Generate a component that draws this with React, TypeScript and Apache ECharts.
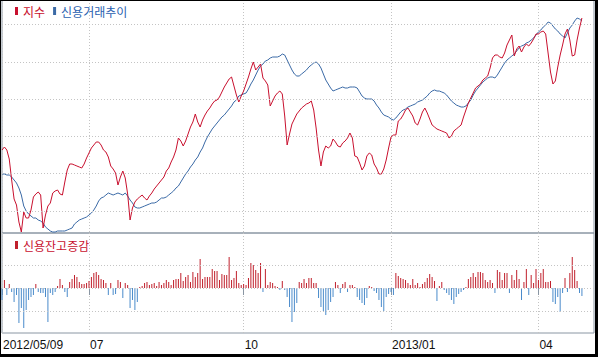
import React, { useEffect, useRef } from "react";
import * as echarts from "echarts";

// ---- categories: KRX trading days from 2012/05/09 ----
const CATEGORY_COUNT = 246;
const HOLIDAYS = [
  "2012/05/28", "2012/06/06", "2012/08/15", "2012/10/01", "2012/10/03",
  "2012/12/19", "2012/12/25", "2012/12/31", "2013/01/01", "2013/02/11",
  "2013/03/01", "2013/05/01", "2013/05/17",
];
const TICK_DATES = ["2012/05/09", "2012/07/02", "2012/10/02", "2013/01/02", "2013/04/01"];
const TICK_LABELS = ["2012/05/09", "07", "10", "2013/01", "04"];

// ---- series (relative levels; upper panel 0..233, lower panel -45..55) ----
const INDEX_LEVEL = [
  83, 86, 83, 74, 53, 34, 28, 11, 1, 21,
  15, 15, 23, 36, 39, 41, 38, 5, 18, 27,
  30, 40, 42, 43, 39, 38, 51, 63, 69, 69,
  68, 67, 66, 65, 69, 75, 80, 85, 88, 91,
  91, 88, 83, 81, 76, 67, 64, 60, 48, 56,
  62, 55, 39, 13, 25, 31, 34, 36, 38, 35,
  33, 37, 40, 44, 47, 50, 53, 56, 62, 65,
  71, 76, 83, 95, 92, 87, 92, 99, 106, 111,
  119, 111, 106, 113, 118, 122, 125, 129, 132, 133,
  136, 141, 146, 150, 154, 156, 147, 138, 131, 137,
  142, 149, 156, 164, 171, 163, 166, 169, 155, 152,
  148, 127, 132, 137, 140, 142, 139, 117, 88, 99,
  109, 114, 119, 122, 125, 127, 129, 130, 132, 123,
  105, 83, 67, 81, 87, 85, 87, 94, 91, 87,
  86, 90, 92, 95, 100, 95, 77, 76, 70, 63,
  67, 77, 80, 78, 69, 65, 59, 59, 64, 73,
  85, 96, 98, 98, 112, 114, 118, 123, 125, 121,
  117, 110, 108, 114, 121, 125, 120, 114, 108, 106,
  104, 103, 102, 101, 100, 95, 97, 102, 104, 106,
  108, 116, 123, 130, 135, 140, 145, 147, 149, 153,
  155, 157, 165, 175, 178, 178, 176, 175, 180, 188,
  193, 198, 177, 184, 187, 181, 186, 189, 187, 190,
  194, 199, 199, 201, 202, 199, 180, 161, 149, 152,
  166, 178, 188, 199, 204, 193, 177, 178, 193, 205,
  215,
];

const CREDIT_TREND = [
  59, 59, 58, 58, 56, 53, 50, 45, 38, 27,
  22, 19, 17, 15, 15, 13, 12, 10, 6, 4,
  2, 1, 1, 2, 2, 2, 2, 3, 4, 5,
  9, 11, 13, 14, 15, 16, 18, 20, 23, 27,
  32, 35, 36, 38, 40, 39, 38, 39, 40, 39,
  38, 40, 37, 33, 30, 26, 25, 25, 26, 27,
  28, 29, 30, 30, 31, 33, 35, 35, 36, 38,
  40, 42, 45, 47, 51, 55, 59, 62, 66, 69,
  73, 76, 81, 85, 91, 96, 100, 104, 107, 110,
  113, 116, 118, 121, 124, 127, 131, 133, 137, 138,
  139, 140, 144, 149, 153, 158, 163, 167, 169, 172,
  173, 175, 176, 176, 176, 177, 179, 178, 173, 168,
  163, 159, 157, 157, 159, 161, 163, 166, 168, 170,
  171, 169, 165, 159, 153, 149, 145, 142, 143, 144,
  145, 146, 145, 145, 146, 146, 146, 145, 141, 137,
  135, 134, 134, 134, 132, 128, 125, 121, 118, 117,
  116, 114, 113, 115, 118, 121, 123, 124, 126, 127,
  128, 129, 131, 132, 133, 135, 137, 140, 142, 143,
  142, 142, 141, 140, 138, 135, 132, 130, 128, 127,
  126, 126, 127, 130, 133, 138, 142, 145, 148, 151,
  153, 155, 156, 156, 155, 158, 162, 166, 170, 173,
  175, 177, 179, 182, 185, 187, 188, 190, 191, 193,
  195, 198, 201, 203, 206, 208, 211, 210, 207, 204,
  202, 199, 197, 195, 200, 205, 208, 212, 215, 214,
  212,
];

const CREDIT_CHANGE = [
  -12, 8, -7, 4, -4, -14, -7, -35, -20, -40,
  -22, -12, -9, -7, 4, -4, -5, -5, -9, -34,
  -5, -7, -4, 2, 9, 3, -4, -9, 6, 9,
  13, 11, 6, 4, 4, 5, 7, 11, 15, 16,
  13, 9, 8, 5, -7, 5, -7, -6, 8, 6,
  -10, 5, 3, -20, -12, -22, -14, 1, 2, 5,
  6, 3, 4, 5, 2, 6, 3, 5, 8, 6,
  3, 8, 9, 9, 15, 7, 11, 13, 6, 16,
  11, 15, 29, 9, 11, 11, 11, 19, 17, 17,
  8, 14, 13, 13, 31, 8, 10, 17, 5, 3,
  4, 3, 10, 25, 23, 18, 15, 25, -4, 19,
  3, 6, 5, 2, 1, -2, 7, -2, -9, -19,
  -34, -24, -15, 6, 5, 9, 5, 10, 10, 5,
  5, -10, -19, -23, -27, -22, -14, -9, 6, 3,
  -5, 4, 6, -4, 3, 3, 1, -9, -12, -15,
  -17, -10, 2, 1, -3, -5, -12, -19, -23, -9,
  -6, -4, -7, 15, 12, 10, 9, 8, 5, 3,
  9, 3, 5, 1, 4, 6, 10, 14, 11, 7,
  -13, 2, 6, -2, -5, -7, -12, -16, -9, -6,
  -4, -2, 1, 9, 11, 15, 11, 16, 16, 15,
  8, 6, 8, 5, -5, 18, 16, 8, 15, 15,
  -5, 13, 8, 18, 9, -12, 6, 19, -7, 13,
  5, 19, 8, 15, 19, 6, 6, 7, -14, -16,
  -9, -24, -5, 10, -4, 15, 31, 18, 7, -5,
  -8,
];

const UPPER_GRID_LEVELS = [22, 59.3, 96.6, 133.9, 171.2, 208.5];
const LOWER_GRID_LEVELS = [-23, 0, 23];

const RED = "#c8102e";
const BLUE_LINE = "#3b6aa6";
const BLUE_TEXT = "#2a5fb0";
const BAR_RED = "#c0202c";
const BAR_BLUE = "#4a8bcb";
const GRID_DOT = "#c4c4c4";
const FRAME_GRAY = "#8a96a3";

function pad(n: number) {
  return n < 10 ? "0" + n : "" + n;
}

function tradingDays(): string[] {
  const out: string[] = [];
  const d = new Date(Date.UTC(2012, 4, 9));
  while (out.length < CATEGORY_COUNT) {
    const dow = d.getUTCDay();
    const s = `${d.getUTCFullYear()}/${pad(d.getUTCMonth() + 1)}/${pad(d.getUTCDate())}`;
    if (dow !== 0 && dow !== 6 && HOLIDAYS.indexOf(s) < 0) out.push(s);
    d.setUTCDate(d.getUTCDate() + 1);
  }
  return out;
}

export default function App() {
  const ref = useRef<HTMLDivElement>(null);

  useEffect(() => {
    if (!ref.current) return;
    const chart = echarts.init(ref.current, undefined, { renderer: "svg" });
    const dates = tradingDays();
    const isTick = (_i: number, v: string) => TICK_DATES.indexOf(v) >= 0;
    const dotted = { color: GRID_DOT, width: 1, type: [1, 2] as any };

    const gridMark = (levels: number[]) => ({
      silent: true,
      symbol: ["none", "none"],
      label: { show: false },
      emphasis: { disabled: true },
      lineStyle: dotted,
      data: levels.map((v) => ({ yAxis: v })),
    });

    const option: any = {
      animation: false,
      backgroundColor: "#ffffff",
      textStyle: { fontFamily: "Noto Sans CJK KR" },
      grid: [
        { left: 2, top: 0, width: 592, height: 233, show: true, borderColor: FRAME_GRAY, borderWidth: 1, backgroundColor: "transparent" },
        { left: 2, top: 233, width: 592, height: 100, show: true, borderColor: FRAME_GRAY, borderWidth: 1, backgroundColor: "transparent" },
      ],
      legend: [
        {
          left: 15, top: 5, padding: 0, itemWidth: 3, itemHeight: 8, itemGap: 8, icon: "rect",
          selectedMode: false,
          textStyle: { fontSize: 12, fontFamily: "Noto Sans CJK KR" },
          data: [
            { name: "지수", textStyle: { color: RED } },
            { name: "신용거래추이", textStyle: { color: BLUE_TEXT } },
          ],
        },
        {
          left: 15, top: 239, padding: 0, itemWidth: 3, itemHeight: 8, icon: "rect",
          selectedMode: false,
          textStyle: { fontSize: 12, fontFamily: "Noto Sans CJK KR" },
          data: [{ name: "신용잔고증감", textStyle: { color: RED } }],
        },
      ],
      xAxis: [
        {
          type: "category", gridIndex: 0, data: dates, boundaryGap: false,
          axisLine: { show: false }, axisTick: { show: false }, axisLabel: { show: false },
          splitLine: { show: true, interval: isTick, lineStyle: dotted },
        },
        {
          type: "category", gridIndex: 1, data: dates, boundaryGap: false,
          axisLine: { show: false },
          axisTick: { show: true, interval: isTick, length: 7, lineStyle: { color: FRAME_GRAY } },
          axisLabel: {
            interval: isTick,
            formatter: (v: string) => {
              const k = TICK_DATES.indexOf(v);
              return k >= 0 ? TICK_LABELS[k] : "";
            },
            align: "left",
            margin: 6,
            fontSize: 12,
            fontFamily: "Liberation Sans",
            color: "#111111",
            padding: [0, 0, 0, 1],
          },
          splitLine: { show: true, interval: isTick, lineStyle: dotted },
        },
      ],
      yAxis: [
        { type: "value", gridIndex: 0, min: 0, max: 233, show: false },
        { type: "value", gridIndex: 1, min: -45, max: 55, show: false },
      ],
      series: [
        {
          name: "신용거래추이", type: "line", xAxisIndex: 0, yAxisIndex: 0,
          data: CREDIT_TREND, symbol: "none", showSymbol: false,
          lineStyle: { width: 1, color: BLUE_LINE }, itemStyle: { color: BLUE_LINE },
          markLine: gridMark(UPPER_GRID_LEVELS), z: 2,
        },
        {
          name: "지수", type: "line", xAxisIndex: 0, yAxisIndex: 0,
          data: INDEX_LEVEL, symbol: "none", showSymbol: false,
          lineStyle: { width: 1, color: RED }, itemStyle: { color: RED }, z: 3,
        },
        {
          name: "신용잔고증감", type: "bar", xAxisIndex: 1, yAxisIndex: 1,
          barWidth: 1,
          itemStyle: { color: BAR_RED },
          data: CREDIT_CHANGE.map((v) => (v < 0 ? { value: v, itemStyle: { color: BAR_BLUE } } : v)),
          markLine: gridMark(LOWER_GRID_LEVELS),
        },
      ],
      graphic: [
        { type: "rect", z: 100, shape: { x: 0, y: 0, width: 598, height: 1 }, style: { fill: "#000" } },
        { type: "rect", z: 100, shape: { x: 0, y: 0, width: 1, height: 357 }, style: { fill: "#000" } },
        { type: "rect", z: 100, shape: { x: 595, y: 0, width: 3, height: 357 }, style: { fill: "#000" } },
        { type: "rect", z: 100, shape: { x: 0, y: 354, width: 598, height: 3 }, style: { fill: "#000" } },
      ],
    };

    chart.setOption(option);
    return () => chart.dispose();
  }, []);

  return (
    <div
      ref={ref}
      style={{ position: "absolute", left: 0, top: 0, width: 598, height: 357, background: "#ffffff" }}
    />
  );
}
